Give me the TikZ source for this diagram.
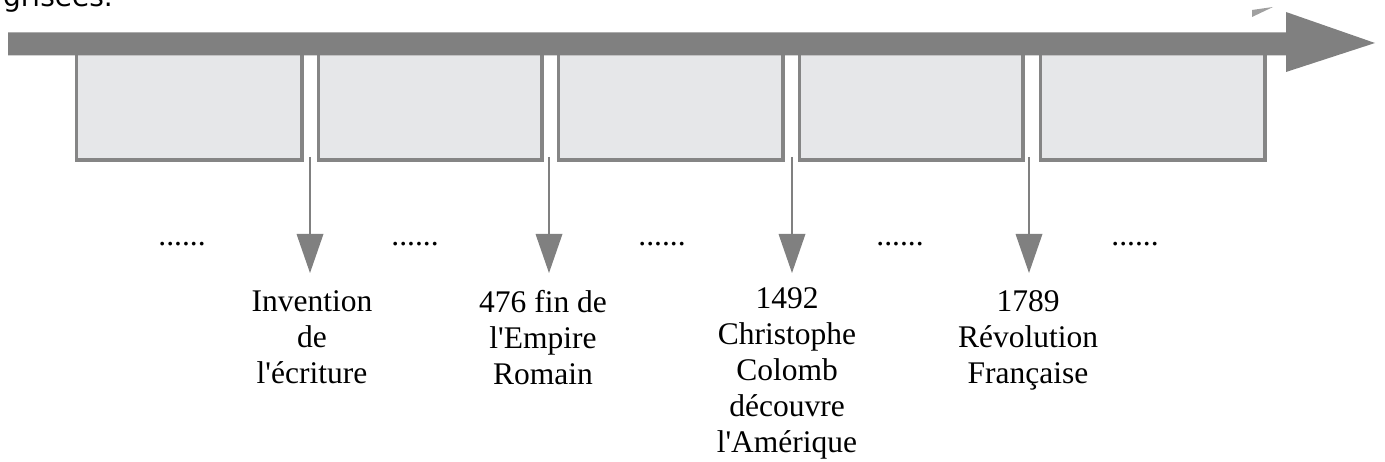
\documentclass[tikz,border=0pt]{standalone}
\usepackage{fontspec}
\setmainfont{Liberation Serif}
\newfontfamily\headsans{DejaVu Sans}
\usetikzlibrary{arrows.meta}
\definecolor{bargray}{HTML}{808080}
\definecolor{boxfill}{HTML}{E6E7E9}
\definecolor{boxline}{HTML}{858585}
\newcommand{\apos}{\textquotesingle}
\tikzset{
  periodbox/.style={draw=boxline, line width=3.5pt, fill=boxfill, anchor=north west,
    minimum height=113.5pt, inner sep=0pt},
  eventarrow/.style={draw=bargray, line width=1.4pt,
    -{Triangle[width=27pt,length=39pt,fill=bargray,line width=0pt]}},
  eventlabel/.style={anchor=north, align=center, inner sep=0pt,
    font=\fontsize{31.5}{36}\selectfont},
  dots/.style={anchor=base, inner sep=0pt, font=\fontsize{31.5}{36}\selectfont}
}
\begin{document}
\begin{tikzpicture}[x=1pt,y=-1pt]
\useasboundingbox (0,0) rectangle (1385,462);
% heading fragment, cut by the top edge as in the reference
\node[anchor=base east, inner sep=0pt, font=\headsans\fontsize{28}{32}\selectfont] (head) at (113,7) {grisées.};
% small fragment top right
\fill[bargray!75] (1252,10) -- (1273,7) -- (1252,17) -- cycle;
% period boxes
\node[periodbox, minimum width=225.5pt] (b1) at (74.75,45) {};
\node[periodbox, minimum width=223.5pt] (b2) at (316.75,45) {};
\node[periodbox, minimum width=224.5pt] (b3) at (556.75,45) {};
\node[periodbox, minimum width=223.5pt] (b4) at (797.75,45) {};
\node[periodbox, minimum width=224.5pt] (b5) at (1038.75,45) {};
% time bar
\fill[bargray] (8,32.5) -- (1286,32.5) -- (1286,12) -- (1375,43) -- (1286,72) -- (1286,55.5) -- (8,55.5) -- cycle;
% dots
\node[dots] (d1) at (182,246) {......};
\node[dots] (d2) at (415,246) {......};
\node[dots] (d3) at (662,246) {......};
\node[dots] (d4) at (900,246) {......};
\node[dots] (d5) at (1135,246) {......};
% labels
\node[eventlabel] (l1) at (312,290) {Invention\\de\\l\apos écriture};
\node[eventlabel] (l2) at (543,290) {476 fin de\\l\apos Empire\\Romain};
\node[eventlabel] (l3) at (787,287) {1492\\Christophe\\Colomb\\découvre\\l\apos Amérique};
\node[eventlabel] (l4) at (1028,290) {1789\\Révolution\\Française};
% arrows
\coordinate (s1) at (310,157); \coordinate (e1) at (310,273);
\coordinate (s2) at (549,157); \coordinate (e2) at (549,273);
\coordinate (s3) at (792,157); \coordinate (e3) at (792,273);
\coordinate (s4) at (1029,157); \coordinate (e4) at (1029,273);
\draw[eventarrow] (s1) -- (e1);
\draw[eventarrow] (s2) -- (e2);
\draw[eventarrow] (s3) -- (e3);
\draw[eventarrow] (s4) -- (e4);
\end{tikzpicture}
\end{document}
